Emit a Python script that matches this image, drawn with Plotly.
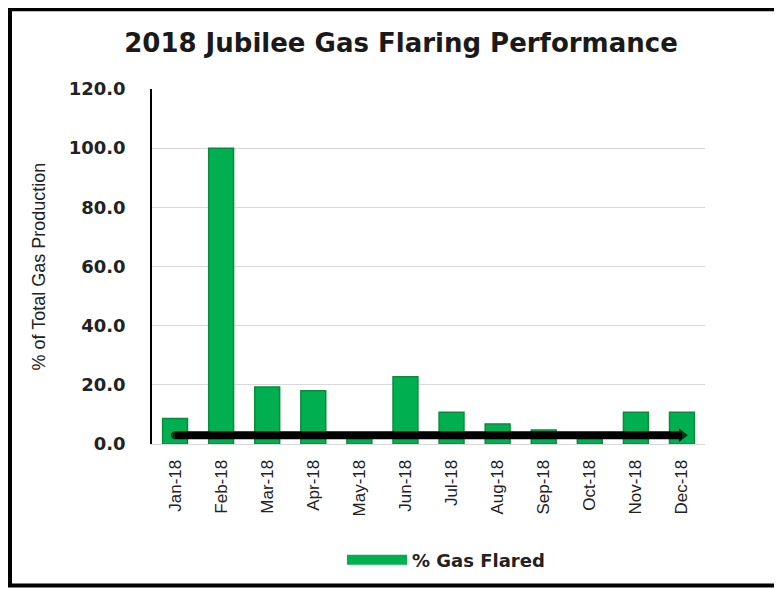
import plotly.graph_objects as go

months = ["Jan-18", "Feb-18", "Mar-18", "Apr-18", "May-18", "Jun-18",
          "Jul-18", "Aug-18", "Sep-18", "Oct-18", "Nov-18", "Dec-18"]
gas_flared = [8.6, 100.0, 19.3, 18.0, 2.0, 22.7, 10.7, 6.8, 4.7, 2.5, 10.7, 10.7]
target = [3.0] * 12
y_ticks = [0, 20, 40, 60, 80, 100, 120]

# page body has an 8px margin
OFF = 8
W, H = 782 - 2 * OFF, 589 - OFF
L, R, T, B = 144, W - 697, 81, 144
pw, ph = W - L - R, H - T - B

def px_x(p):  # reference-image pixel -> paper coordinate
    return (p - OFF - L) / pw

def px_y(p):
    return (H - B - (p - OFF)) / ph

GREEN = "#00b050"

fig = go.Figure()
fig.add_trace(go.Bar(
    x=months, y=gas_flared, name="% Gas Flared", showlegend=False,
    marker=dict(color=GREEN, line=dict(color="#0b8a3c", width=1.5)),
    width=0.54,
))
fig.add_trace(go.Scatter(
    x=months, y=target, mode="lines+markers", showlegend=False,
    line=dict(color="black", width=8),
    marker=dict(symbol=["circle"] + ["line-ns"] * 10 + ["triangle-right"],
                size=[8] + [0] * 10 + [12], color="black",
                line=dict(width=0)),
    hoverinfo="skip",
))
# legend entry with a wide swatch like the original
fig.add_trace(go.Scatter(
    x=[None], y=[None], mode="lines", name="% Gas Flared",
    line=dict(color=GREEN, width=13),
))

border = dict(type="line", xref="paper", yref="paper",
              line=dict(color="black", width=4), layer="above")

fig.update_layout(
    width=W, height=H,
    margin=dict(l=L, r=R, t=T, b=B),
    paper_bgcolor="white", plot_bgcolor="white",
    title=dict(text="<b>2018 Jubilee Gas Flaring Performance</b>",
               x=px_x(401), xref="paper", xanchor="center",
               y=1 - (43 - OFF) / H, yanchor="middle",
               font=dict(family="DejaVu Sans, sans-serif", size=26, color="#1a1a1a")),
    xaxis=dict(
        tickangle=-90, showgrid=False, showline=True, linecolor="#d9d9d9", linewidth=1,
        ticks="", ticklabelstandoff=8,
        tickfont=dict(family="Liberation Sans, Arial, sans-serif", size=17, color="#222"),
        range=[-0.5, 11.5],
    ),
    yaxis=dict(
        range=[0, 120], tickvals=y_ticks, tickformat=".1f",
        showgrid=True, gridcolor="#d9d9d9", gridwidth=1,
        showline=True, linecolor="black", linewidth=1.5, zeroline=False,
        ticks="", ticklabelstandoff=21,
        tickfont=dict(family="DejaVu Sans, sans-serif", size=18, color="#222", weight="bold"),
        title=dict(text="% of Total Gas Production", standoff=18,
                   font=dict(family="Liberation Sans, Arial, sans-serif", size=18, color="#222")),
    ),
    legend=dict(orientation="h", x=px_x(446), xanchor="center", y=px_y(560), yanchor="middle",
                bgcolor="rgba(0,0,0,0)",
                font=dict(family="DejaVu Sans, sans-serif", size=18, color="#222", weight="bold"),
                itemwidth=60),
    bargap=0.46,
    shapes=[
        dict(border, x0=px_x(10), x1=px_x(10), y0=px_y(588), y1=px_y(9)),
        dict(border, x0=px_x(8), x1=px_x(820), y0=px_y(9), y1=px_y(9)),
        dict(border, x0=px_x(8), x1=px_x(820), y0=px_y(587), y1=px_y(587)),
    ],
)

fig.write_html("out.html")
